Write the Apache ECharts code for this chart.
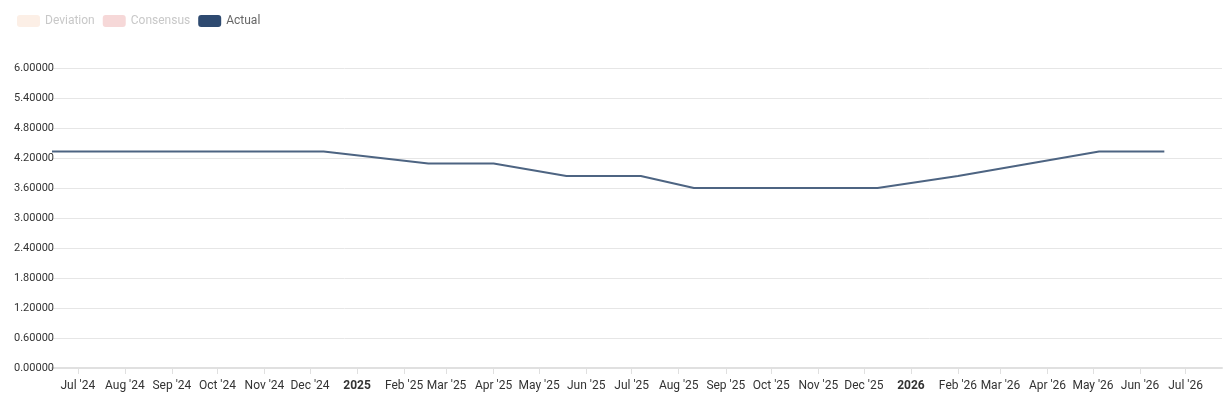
<!DOCTYPE html>
<html>
<head>
<meta charset="utf-8">
<script src="https://cdn.jsdelivr.net/npm/echarts@6/dist/echarts.min.js"></script>
<style>html,body{margin:0;padding:0;background:#fff}#chart{width:1232px;height:400px}</style>
</head>
<body>
<div id="chart"></div>
<script>
// dates and values of the Actual line
var dates = ['2024-06-14', '2024-12-10', '2025-02-17', '2025-04-01', '2025-05-19', '2025-07-07',
             '2025-08-11', '2025-12-10', '2026-02-01', '2026-05-05', '2026-06-17'];
var actual = [4.33, 4.33, 4.09, 4.09, 3.84, 3.84, 3.60, 3.60, 3.84, 4.33, 4.33];
var yTicks = [0, 6, 0.6];

var myChart = echarts.init(document.getElementById('chart'));

var option = {
    animation: false,
    legend: {
        left: 12, top: 10,
        icon: 'roundRect', itemWidth: 23, itemHeight: 12, itemGap: 8,
        textStyle: {fontFamily: 'Roboto', fontSize: 12},
        data: [
            {name: 'Deviation', itemStyle: {color: '#fcefe6'}, textStyle: {color: '#c8c8c8'}},
            {name: 'Consensus', itemStyle: {color: '#f6d8d8'}, textStyle: {color: '#c8c8c8'}},
            {name: 'Actual', itemStyle: {color: '#2e4a70'}, textStyle: {color: '#666'}}
        ]
    },
    grid: {left: 52, right: 10, top: 68, bottom: 32},
    xAxis: {
        type: 'time',
        min: '2024-06-14',
        max: '2026-07-25',
        splitNumber: 14,
        axisLine: {lineStyle: {color: '#e0e0e0', width: 2}},
        axisTick: {show: true, length: 6, lineStyle: {color: '#e0e0e0'}},
        splitLine: {show: false},
        axisLabel: {
            color: '#333', fontFamily: 'Roboto', fontSize: 12, margin: 12,
            formatter: {
                year: '{yr|{yyyy}}',
                month: "{MMM} '{yy}",
                day: "{MMM} '{yy}"
            },
            rich: {yr: {fontWeight: 'bold', fontSize: 12, color: '#333'}}
        }
    },
    yAxis: {
        type: 'value',
        min: yTicks[0], max: yTicks[1], interval: yTicks[2],
        axisLine: {show: false},
        axisTick: {show: false},
        splitLine: {lineStyle: {color: '#e6e6e6'}},
        axisLabel: {
            color: '#333', fontFamily: 'Roboto', fontSize: 11, margin: -2,
            inside: false, align: 'right',
            formatter: function (v) { return v.toFixed(5); }
        }
    },
    series: [
        {name: 'Deviation', type: 'line', data: []},
        {name: 'Consensus', type: 'line', data: []},
        {
            name: 'Actual', type: 'line', symbol: 'none',
            lineStyle: {color: '#4d6482', width: 2},
            itemStyle: {color: '#2e4a70'},
            data: dates.map(function (d, i) { return [d, actual[i]]; })
        }
    ]
};

myChart.setOption(option);
</script>
</body>
</html>
